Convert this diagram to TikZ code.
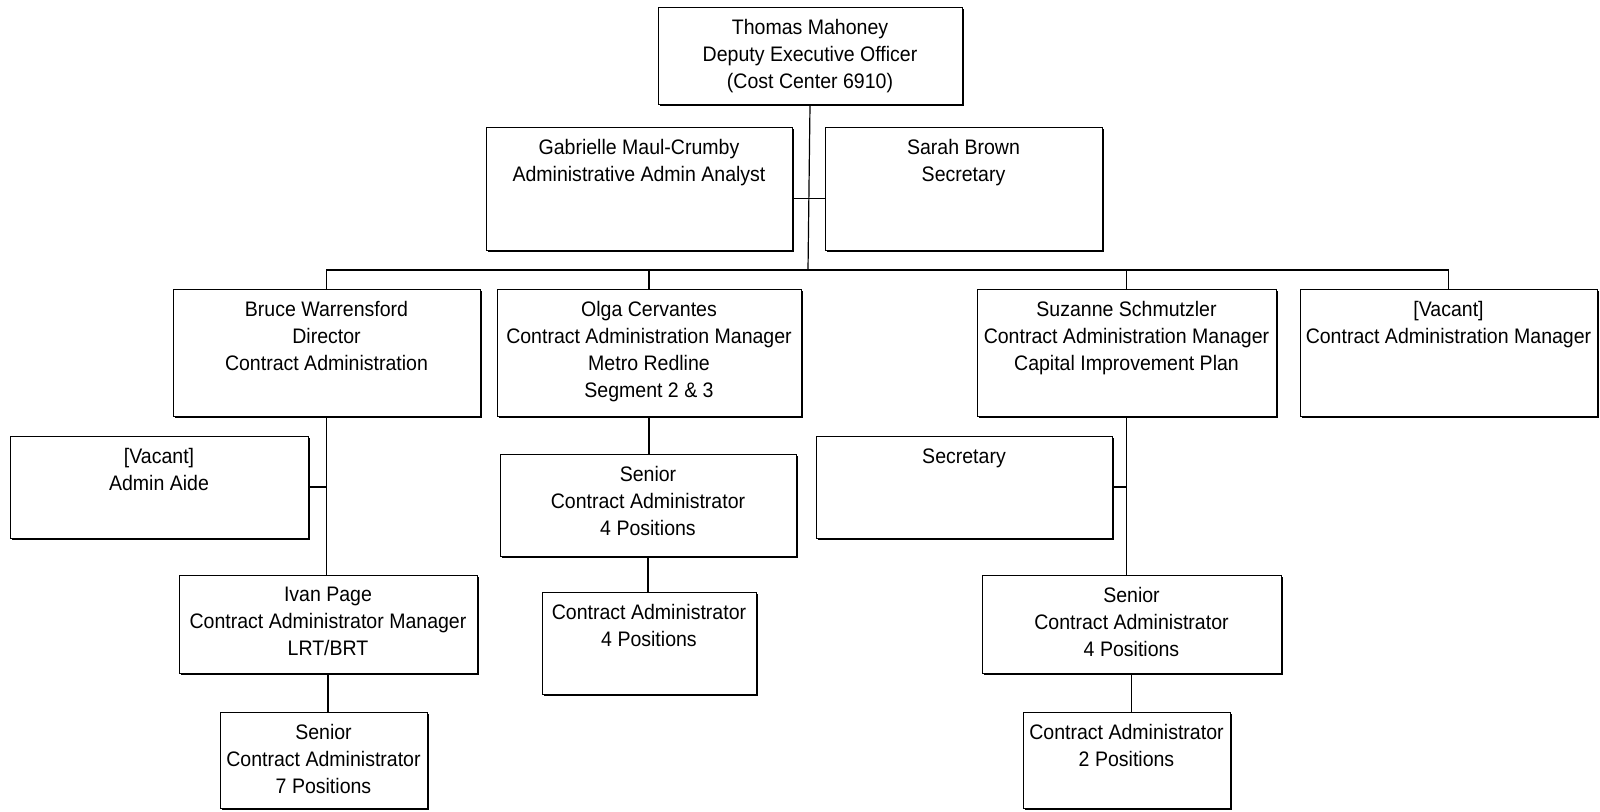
\documentclass[tikz,border=0pt]{standalone}
\usepackage{fontspec}
\setmainfont{Liberation Sans}[FakeStretch=0.93]
\usetikzlibrary{fit,shadows}

\begin{document}
\begin{tikzpicture}[x=0.5pt,y=-0.5pt,
  box/.style={draw,fill=white,line width=0.5pt,inner sep=0pt,
              drop shadow={shadow xshift=1.1pt,shadow yshift=-1.1pt,fill=black,opacity=1}},
  lbl/.style={font=\fontsize{10.5}{13.5}\selectfont,align=center,inner sep=3pt,
              anchor=north,yshift=-3.3pt},
  conn/.style={line width=0.6pt}
]
  \useasboundingbox (0,0) rectangle (1600,811);

  %% ===== top level =====
  \node[box,fit={(658,7) (962,104)},
        label={[lbl]north:{Thomas Mahoney\\Deputy Executive Officer\\(Cost Center 6910)}}] (dep) {};

  % staff
  \node[box,fit={(486,127) (792,250)},
        label={[lbl]north:{Gabrielle Maul-Crumby\\Administrative Admin Analyst}}] (gab) {};
  \node[box,fit={(825,127) (1102,250)},
        label={[lbl]north:{Sarah Brown\\Secretary}}] (sarah) {};

  %% ===== managers =====
  \node[box,fit={(173,289) (480,416)},
        label={[lbl]north:{Bruce Warrensford\\Director\\Contract Administration}}] (bruce) {};
  \node[box,fit={(497,289) (801,416)},
        label={[lbl]north:{Olga Cervantes\\Contract Administration Manager\\Metro Redline\\Segment 2 \& 3}}] (olga) {};
  \node[box,fit={(977,289) (1276,416)},
        label={[lbl]north:{Suzanne Schmutzler\\Contract Administration Manager\\Capital Improvement Plan}}] (suz) {};
  \node[box,fit={(1300,289) (1597,416)},
        label={[lbl]north:{[Vacant]\\Contract Administration Manager}}] (vac) {};

  %% ===== Bruce branch =====
  \node[box,fit={(10,436) (308,538)},
        label={[lbl]north:{[Vacant]\\Admin Aide}}] (aide) {};
  \node[box,fit={(179,575) (477,673)},
        label={[lbl]north:{Ivan Page\\Contract Administrator Manager\\LRT/BRT}}] (ivan) {};
  \node[box,fit={(220,712) (427,808)},
        label={[lbl]north:{Senior\\Contract Administrator\\7 Positions}}] (ivsen) {};

  %% ===== Olga branch =====
  \node[box,fit={(500,454) (796,556)},
        label={[lbl]north:{Senior\\Contract Administrator\\4 Positions}}] (olsen) {};
  \node[box,fit={(542,592) (756,694)},
        label={[lbl]north:{Contract Administrator\\4 Positions}}] (olca) {};

  %% ===== Suzanne branch =====
  \node[box,fit={(816,436) (1112,538)},
        label={[lbl]north:{Secretary}}] (suzsec) {};
  \node[box,fit={(982,575) (1281,673)},
        label={[lbl]north:{Senior\\Contract Administrator\\4 Positions}}] (suzsen) {};
  \node[box,fit={(1023,712) (1230,808)},
        label={[lbl]north:{Contract Administrator\\2 Positions}}] (suzca) {};

  %% ===== connectors =====
  \coordinate (bus) at (808,270);
  \draw[conn] (dep.south) -- (bus);
  \draw[conn] ([yshift=-5pt]gab.east) -- ([yshift=-5pt]sarah.west);
  \foreach \n in {bruce,olga,suz,vac}
    \draw[conn] (bus) -| (\n.north);

  \draw[conn] (bruce.south) -- (bruce.south |- ivan.north);
  \draw[conn] (aide.east) -- (aide.east -| bruce.south);
  \draw[conn] (ivan.south) -- (ivan.south |- ivsen.north);

  \draw[conn] (olga.south) -- (olga.south |- olsen.north);
  \draw[conn] (olsen.south) -- (olsen.south |- olca.north);

  \draw[conn] (suz.south) -- (suz.south |- suzsen.north);
  \draw[conn] (suzsec.east) -- (suzsec.east -| suz.south);
  \draw[conn] (suzsen.south) -- (suzsen.south |- suzca.north);

\end{tikzpicture}
\end{document}
